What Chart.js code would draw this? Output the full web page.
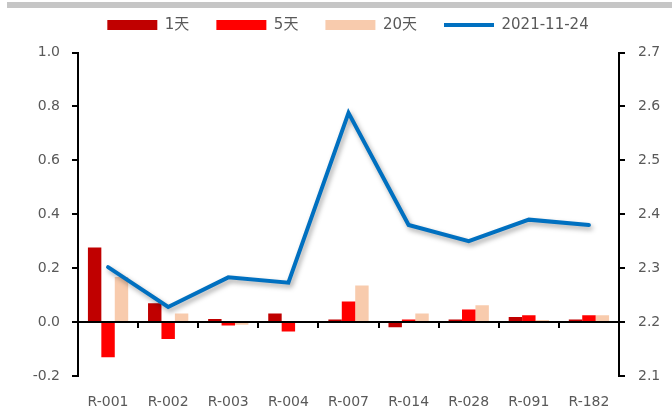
<!DOCTYPE html>
<html>
<head>
<meta charset="utf-8">
<script src="https://cdn.jsdelivr.net/npm/chart.js@4.4.0/dist/chart.umd.min.js"></script>
<style>
  body { margin: 0; background: #fff; }
</style>
</head>
<body>
<canvas id="chart" width="672" height="416"></canvas>
<script>
// categories and series
const categories = ['R-001', 'R-002', 'R-003', 'R-004', 'R-007', 'R-014', 'R-028', 'R-091', 'R-182'];
const day1 = [0.277, 0.07, 0.011, 0.032, 0.01, -0.019, 0.01, 0.019, 0.01];
const day5 = [-0.13, -0.063, -0.013, -0.035, 0.076, 0.01, 0.047, 0.025, 0.025];
const day20 = [0.167, 0.032, -0.01, -0.002, 0.136, 0.032, 0.062, 0.008, 0.025];
const rate20211124 = [2.302, 2.228, 2.283, 2.273, 2.588, 2.38, 2.35, 2.39, 2.38];

const leftRange = [-0.2, 1.0];
const rightRange = [2.1, 2.7];

Chart.defaults.font.family = "'DejaVu Sans', 'Noto Sans CJK SC', sans-serif";
Chart.defaults.font.size = 14;
Chart.defaults.color = '#595959';

const fmt = v => (Math.abs(v) < 1e-9 ? 0 : v).toFixed(1);

// grey strip across the top, zero axis with tick marks between categories
const decor = {
  id: 'decor',
  beforeLayout(chart) {
    const lg = chart.legend;
    if (lg && !lg._patched) {
      const fit = lg.fit;
      lg.fit = function () {
        fit.call(this);
        this.height += 10;
      };
      lg._patched = true;
    }
  },
  beforeDraw(chart) {
    const ctx = chart.ctx;
    ctx.save();
    ctx.fillStyle = '#fff';
    ctx.fillRect(0, 0, chart.width, chart.height);
    ctx.fillStyle = '#C6C6C6';
    ctx.fillRect(7, 2, chart.width - 7, 6);
    ctx.restore();
  },
  beforeDatasetDraw(chart, args) {
    if (chart.data.datasets[args.index].type === 'line') {
      const ctx = chart.ctx;
      ctx.save();
      ctx.shadowColor = 'rgba(0,0,0,0.35)';
      ctx.shadowBlur = 5;
      ctx.shadowOffsetX = 2;
      ctx.shadowOffsetY = 3;
    }
  },
  afterDatasetDraw(chart, args) {
    if (chart.data.datasets[args.index].type === 'line') chart.ctx.restore();
  },
  afterDatasetsDraw(chart) {
    const {ctx, chartArea, scales} = chart;
    const y0 = scales.y.getPixelForValue(0);
    ctx.save();
    ctx.strokeStyle = '#000';
    ctx.lineWidth = 2;
    ctx.beginPath();
    ctx.moveTo(chartArea.left, y0);
    ctx.lineTo(chartArea.right, y0);
    for (let i = 1; i < categories.length; i++) {
      const x = Math.round((scales.x.getPixelForValue(i - 1) + scales.x.getPixelForValue(i)) / 2);
      ctx.moveTo(x, y0);
      ctx.lineTo(x, y0 + 6);
    }
    ctx.stroke();
    ctx.restore();
  }
};

new Chart(document.getElementById('chart'), {
  type: 'bar',
  data: {
    labels: categories,
    datasets: [
      { label: '1天', data: day1, backgroundColor: '#C00000', yAxisID: 'y', order: 1 },
      { label: '5天', data: day5, backgroundColor: '#FF0000', yAxisID: 'y', order: 1 },
      { label: '20天', data: day20, backgroundColor: '#F8CBAD', yAxisID: 'y', order: 1 },
      {
        type: 'line',
        label: '2021-11-24',
        data: rate20211124,
        yAxisID: 'y1',
        borderColor: '#0070C0',
        backgroundColor: '#0070C0',
        borderWidth: 4,
        borderJoinStyle: 'miter',
        borderCapStyle: 'round',
        pointRadius: 0,
        tension: 0,
        order: 0
      }
    ]
  },
  options: {
    responsive: false,
    animation: false,
    categoryPercentage: 0.67,
    barPercentage: 1,
    layout: { padding: { top: -9.5, left: 24, right: 0, bottom: 0 } },
    plugins: {
      tooltip: { enabled: false },
      legend: {
        position: 'top',
        labels: {
          usePointStyle: true,
          pointStyleWidth: 50,
          boxHeight: 10,
          padding: 27,
          color: '#595959',
          font: { size: 15 },
          sort: (a, b) => a.datasetIndex - b.datasetIndex,
          generateLabels(chart) {
            const items = Chart.defaults.plugins.legend.labels.generateLabels(chart);
            items.forEach(it => {
              const ds = chart.data.datasets[it.datasetIndex];
              it.pointStyle = ds.type === 'line' ? 'line' : 'rect';
              if (ds.type !== 'line') it.lineWidth = 0;
            });
            return items;
          }
        }
      }
    },
    scales: {
      x: {
        grid: { display: false, drawTicks: false },
        border: { display: false },
        ticks: { padding: 18, color: '#595959' },
        afterFit(scale) { scale.height = 40; }
      },
      y: {
        position: 'left',
        min: leftRange[0],
        max: leftRange[1],
        ticks: { stepSize: 0.2, padding: 12, callback: v => fmt(v) },
        grid: { drawOnChartArea: false, color: '#000', lineWidth: 2, tickLength: 6 },
        border: { display: true, color: '#000', width: 2 },
        afterFit(scale) { scale.width = 54; }
      },
      y1: {
        position: 'right',
        min: rightRange[0],
        max: rightRange[1],
        ticks: { stepSize: 0.1, padding: 13, callback: v => fmt(v) },
        grid: { drawOnChartArea: false, color: '#000', lineWidth: 2, tickLength: 6 },
        border: { display: true, color: '#000', width: 2 },
        afterFit(scale) { scale.width = 53; }
      }
    }
  },
  plugins: [decor]
});
</script>
</body>
</html>
